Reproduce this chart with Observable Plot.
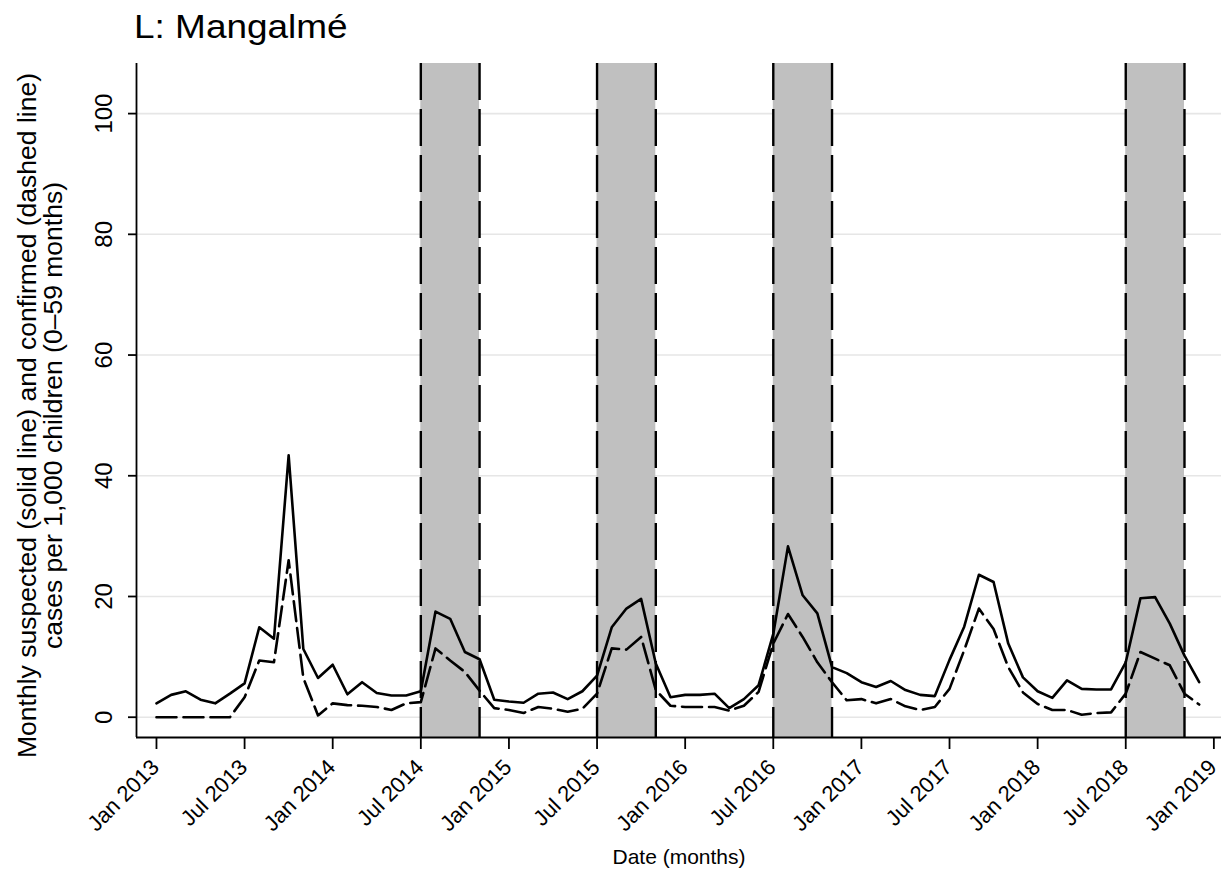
<!DOCTYPE html>
<html>
<head>
<meta charset="utf-8">
<script src="https://cdn.jsdelivr.net/npm/d3@7"></script>
<script src="https://cdn.jsdelivr.net/npm/@observablehq/plot@0.6"></script>
<style>
  html, body { margin: 0; padding: 0; background: #ffffff; }
  body { font-family: "Liberation Sans", Arial, sans-serif; width: 1221px; overflow: hidden; }
  #title { height: 50px; box-sizing: border-box; padding-top: 10px; padding-left: 134px; }
  #title span { display: inline-block; font-size: 33px; line-height: 33px; color: #000;
                transform: scaleX(1.12); transform-origin: left center; }
  #chart svg { display: block; }
</style>
</head>
<body>
<div id="title"><span>L: Mangalmé</span></div>
<div id="chart"></div>
<script>
// Month index 0 = Jan 2013 ... 71 = Dec 2018
const suspected = [
  2.3, 3.7, 4.3, 2.9, 2.3, 3.9, 5.6, 14.9, 13.0, 43.4, 11.3, 6.5,   // 2013
  8.7, 3.8, 5.8, 4.0, 3.6, 3.6, 4.3, 17.5, 16.3, 10.8, 9.6, 2.9,    // 2014
  2.6, 2.4, 3.9, 4.1, 3.0, 4.3, 6.9, 14.9, 18.0, 19.6, 8.9, 3.3,    // 2015
  3.7, 3.7, 3.9, 1.5, 3.0, 5.3, 13.8, 28.3, 20.2, 17.2, 8.3, 7.3,   // 2016
  5.8, 5.0, 6.0, 4.5, 3.7, 3.5, 9.5, 15.0, 23.6, 22.4, 12.2, 6.6,   // 2017
  4.3, 3.2, 6.1, 4.7, 4.6, 4.6, 9.1, 19.7, 19.9, 15.5, 10.2, 5.8    // 2018
];
const confirmed = [
  0, 0, 0, 0, 0, 0, 3.3, 9.4, 9.1, 26.0, 6.5, 0.3,                  // 2013
  2.3, 2.0, 1.9, 1.7, 1.2, 2.3, 2.5, 11.4, 9.4, 7.5, 4.4, 1.5,      // 2014
  1.2, 0.7, 1.7, 1.4, 0.9, 1.4, 3.9, 11.4, 11.2, 13.3, 4.5, 1.9,    // 2015
  1.7, 1.7, 1.7, 1.1, 1.9, 4.2, 12.2, 17.1, 13.3, 9.1, 5.8, 2.8,    // 2016
  3.0, 2.3, 3.0, 1.8, 1.2, 1.7, 4.7, 11.1, 18.0, 14.6, 8.3, 4.1,    // 2017
  2.2, 1.2, 1.2, 0.4, 0.7, 0.8, 3.9, 10.8, 9.7, 8.6, 3.9, 2.1       // 2018
];
// Shaded periods (month index): Jul–Nov 2014, 2015, 2016, 2018
const bandStart = [18, 30, 42, 66];
const bandEnd   = [22, 34, 46, 70];
const xTickValues = [0, 6, 12, 18, 24, 30, 36, 42, 48, 54, 60, 66, 72];
const xTickLabels = ["Jan 2013", "Jul 2013", "Jan 2014", "Jul 2014", "Jan 2015", "Jul 2015",
                     "Jan 2016", "Jul 2016", "Jan 2017", "Jul 2017", "Jan 2018", "Jul 2018", "Jan 2019"];
const yTicks = [0, 20, 40, 60, 80, 100];
const yTitle = "Monthly suspected (solid line) and confirmed (dashed line)\ncases per 1,000 children (0\u201359 months)";
const xTitle = "Date (months)";

const xDomain = [-1.36, 72.52];
const yDomain = [-3.36, 108.3];

const data = suspected.map((s, i) => ({ i, s, c: confirmed[i] }));
const bands = bandStart.map((s, k) => ({ start: s, end: bandEnd[k] }));
const bandEdges = bandStart.concat(bandEnd);
const xLabelData = xTickValues.map((v, k) => ({ v, label: xTickLabels[k] }));

const chart = Plot.plot({
  width: 1221,
  height: 844,
  marginTop: 13,
  marginBottom: 157,
  marginLeft: 136,
  marginRight: 0,
  style: { fontFamily: "'Liberation Sans', Arial, sans-serif", fontSize: "20px", background: "#ffffff", color: "#000" },
  x: { type: "linear", domain: xDomain },
  y: { domain: yDomain },
  marks: [
    Plot.ruleY(yTicks, { y: d => d, stroke: "#e6e6e6", strokeWidth: 1.6 }),
    Plot.rect(bands, { x1: "start", x2: "end", fill: "#c0c0c0" }),
    Plot.ruleX(bandEdges, { x: d => d, stroke: "#000", strokeWidth: 2.4, strokeDasharray: "37,9" }),
    Plot.line(data, { x: "i", y: "c", stroke: "#000", strokeWidth: 2.6, strokeDasharray: "20,7" }),
    Plot.line(data, { x: "i", y: "s", stroke: "#000", strokeWidth: 2.6 }),
    Plot.ruleX([xDomain[0]], { stroke: "#000", strokeWidth: 1.8 }),
    Plot.ruleY([yDomain[0]], { stroke: "#000", strokeWidth: 1.8 }),
    Plot.axisX({ ticks: xTickValues, tickSize: 12, tickFormat: () => "", label: null, strokeWidth: 1.8 }),
    Plot.text(xLabelData, { x: "v", text: "label", frameAnchor: "bottom", dy: 26, dx: -1,
                            rotate: -45, fontSize: 22, textAnchor: "end", lineAnchor: "middle" }),
    Plot.axisY({ ticks: yTicks, tickSize: 8, tickFormat: () => "", label: null, strokeWidth: 1.8 }),
    Plot.text(yTicks, { y: d => d, text: d => String(d), frameAnchor: "left", dx: -32,
                        rotate: -90, fontSize: 24, textAnchor: "middle", lineAnchor: "middle" }),
    Plot.text([yTitle], { text: d => d, frameAnchor: "left", dx: -96, dy: 15, rotate: -90,
                          fontSize: 26.5, lineHeight: 0.98, textAnchor: "middle", lineAnchor: "middle" }),
    Plot.text([xTitle], { text: d => d, frameAnchor: "bottom", dy: 120, fontSize: 21, lineAnchor: "middle" })
  ]
});
document.getElementById("chart").appendChild(chart);
</script>
</body>
</html>
